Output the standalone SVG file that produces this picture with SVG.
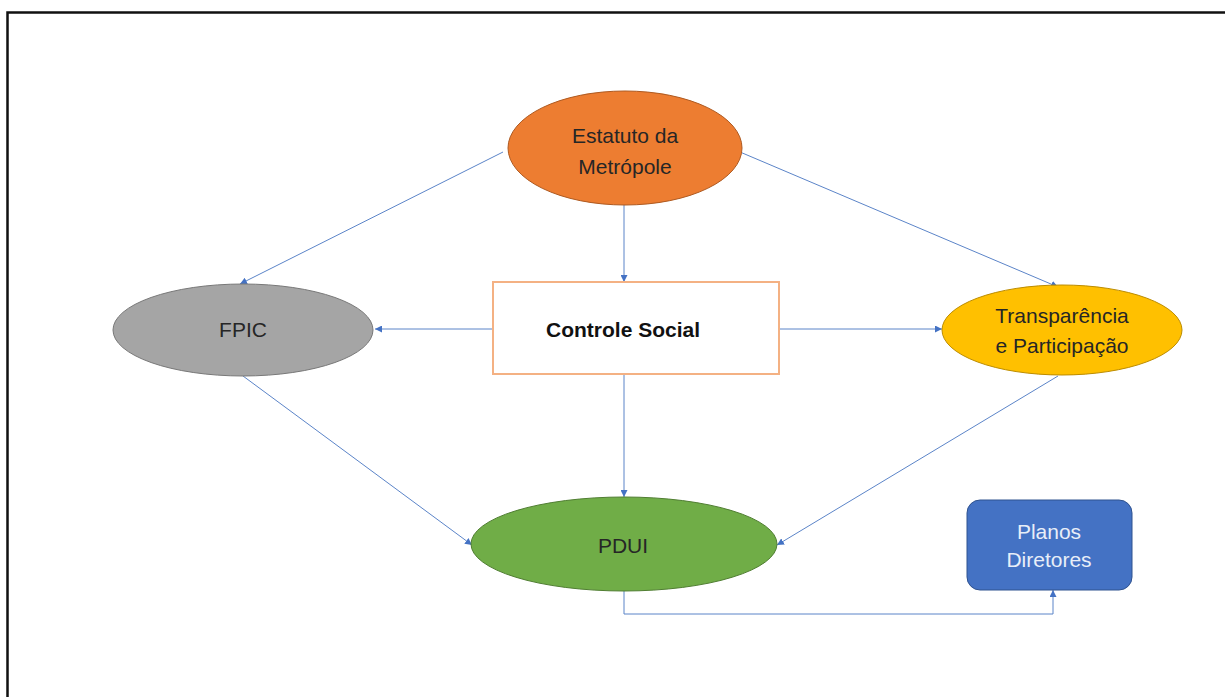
<svg xmlns="http://www.w3.org/2000/svg" width="1225" height="697" viewBox="0 0 1225 697">
<style>
.lbl{font-family:"Liberation Sans",Arial,sans-serif;font-size:21px;text-anchor:middle}
.dark{fill:#262626}
.con{fill:none;stroke:#5b84c8;stroke-width:1}
</style>
<defs>
<marker id="ah" viewBox="0 0 10 10" refX="10" refY="5" markerWidth="7" markerHeight="7" markerUnits="userSpaceOnUse" orient="auto">
<path d="M0,0 L10,5 L0,10 z" fill="#4472c4"/>
</marker>
</defs>
<rect x="0" y="0" width="1225" height="697" fill="#fff"/>
<path d="M7.5,697 V12.5 H1225" fill="none" stroke="#111" stroke-width="2.5"/>
<g id="connectors">
<line class="con" x1="503" y1="152" x2="240" y2="284" marker-end="url(#ah)"/>
<line class="con" x1="740" y1="152" x2="1058" y2="287" marker-end="url(#ah)"/>
<line class="con" x1="624" y1="205" x2="624" y2="282" marker-end="url(#ah)"/>
<line class="con" x1="493" y1="329" x2="375" y2="329" marker-end="url(#ah)"/>
<line class="con" x1="779" y1="329" x2="942" y2="329" marker-end="url(#ah)"/>
<line class="con" x1="624" y1="374" x2="624" y2="497" marker-end="url(#ah)"/>
<line class="con" x1="243" y1="376" x2="472" y2="545" marker-end="url(#ah)"/>
<line class="con" x1="1058" y1="376" x2="777" y2="545" marker-end="url(#ah)"/>
<path class="con" d="M624,591 V614 H1053 V590" marker-end="url(#ah)"/>
</g>
<g id="estatuto">
<ellipse cx="625" cy="148" rx="117" ry="57" fill="#ed7d31" stroke="#ae5a21" stroke-width="1"/>
<text class="lbl dark" x="625" y="143">Estatuto da</text>
<text class="lbl dark" x="625" y="174">Metrópole</text>
</g>
<g id="controle">
<rect x="493" y="282" width="286" height="92" fill="#fff" stroke="#f4b183" stroke-width="2"/>
<text class="lbl" x="623" y="337" font-weight="bold" font-size="20.5" fill="#111">Controle Social</text>
</g>
<g id="fpic">
<ellipse cx="243" cy="330" rx="130" ry="46" fill="#a5a5a5" stroke="#787878" stroke-width="1"/>
<text class="lbl dark" x="243" y="337">FPIC</text>
</g>
<g id="transparencia">
<ellipse cx="1062" cy="330" rx="120" ry="45" fill="#ffc000" stroke="#bc8c00" stroke-width="1"/>
<text class="lbl dark" x="1062" y="323">Transparência</text>
<text class="lbl dark" x="1062" y="353">e Participação</text>
</g>
<g id="pdui">
<ellipse cx="624" cy="544" rx="153" ry="47" fill="#70ad47" stroke="#507e32" stroke-width="1"/>
<text class="lbl dark" x="623" y="553">PDUI</text>
</g>
<g id="planos">
<rect x="967" y="500" width="165" height="90" rx="13" fill="#4472c4" stroke="#2f528f" stroke-width="1"/>
<text class="lbl" x="1049" y="539" fill="#e8eef8">Planos</text>
<text class="lbl" x="1049" y="567" fill="#e8eef8">Diretores</text>
</g>
</svg>
